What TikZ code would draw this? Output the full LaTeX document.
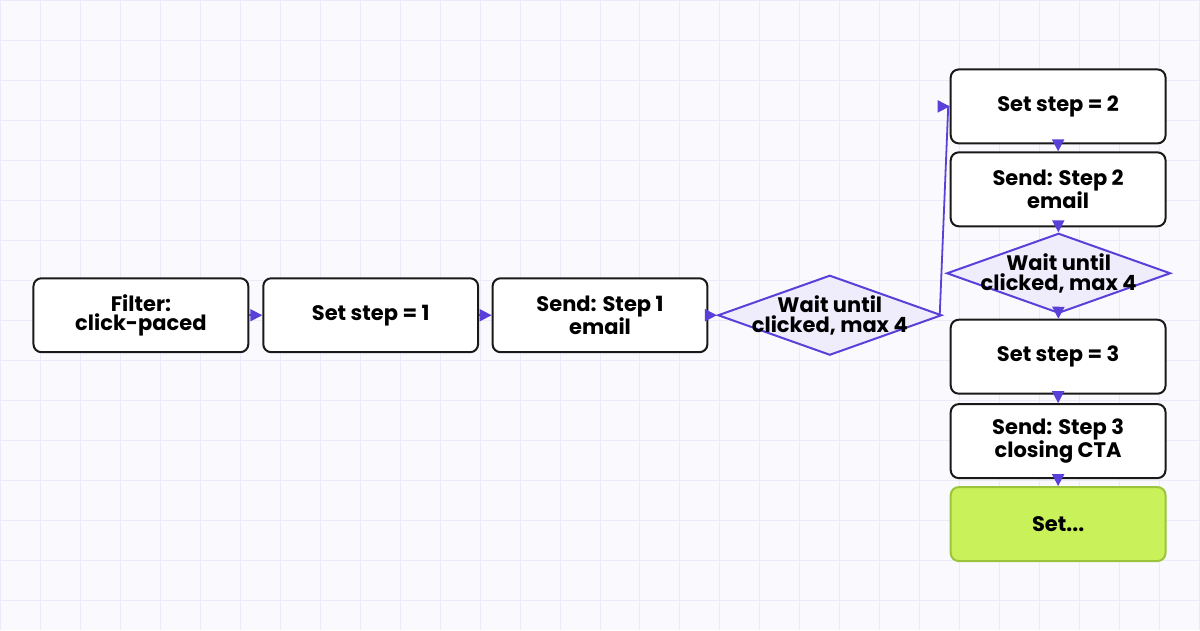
\documentclass[tikz,border=0pt]{standalone}
\usepackage{fontspec}
\setmainfont{Poppins}
\usetikzlibrary{shapes.geometric,arrows.meta}
\definecolor{gridline}{HTML}{ECEAF8}
\definecolor{paper}{HTML}{FAFAFE}
\definecolor{flow}{HTML}{5B3FD9}
\definecolor{waitfill}{HTML}{EFECFC}
\definecolor{donefill}{HTML}{C9F15A}
\definecolor{doneline}{HTML}{9CC43A}
\tikzset{
  label font/.style={font=\fontsize{21}{19.5}\selectfont\bfseries, align=center},
  step box/.style={draw=black!90, line width=2pt, rounded corners=8pt, fill=white,
    minimum width=215pt, minimum height=74pt, label font},
  wait/.style={diamond, aspect=2.8, draw=flow, line width=2pt, fill=waitfill, inner sep=0pt,
    minimum width=224pt, minimum height=80pt},
  done/.style={step box, fill=donefill, draw=doneline},
  arr/.style={draw=flow, line width=1.8pt, -{Triangle[length=12pt,width=12pt]}}
}
\begin{document}
\begin{tikzpicture}[x=1pt,y=-1pt]
		% Background and grid
		\fill[paper] (0,0) rectangle (1200,630);
		\foreach \i in {0,40,...,1200} \draw[gridline, line width=1pt] (\i,0) -- (\i,630);
		\foreach \j in {0,40,...,600} \draw[gridline, line width=1pt] (0,\j) -- (1200,\j);
		\useasboundingbox (0,0) rectangle (1200,630);
		% Main row
		\node[step box] (filter) at (140.5,315) {Filter:\\click-paced};
		\node[step box] (set1) at (370.5,315) {Set step = 1};
		\node[step box] (send1) at (600,315) {Send: Step 1\\email};
		\node[wait, label={[label font]center:Wait until\\clicked, max 4}] (wait1) at (830,315) {};
		% Right column
		\node[step box] (set2) at (1058.5,106) {Set step = 2};
		\node[step box] (send2) at (1058.5,189) {Send: Step 2\\email};
		\node[wait, label={[label font]center:Wait until\\clicked, max 4}] (wait2) at (1059,273) {};
		\node[step box] (set3) at (1058.5,356.5) {Set step = 3};
		\node[step box] (send3) at (1058.5,441) {Send: Step 3\\closing CTA};
		\node[done] (final) at (1058.5,524) {Set...};
		\coordinate (bend) at ([xshift=-1.5pt]set2.west);
		% Connectors
		\draw[arr] (filter) -- (set1);
		\draw[arr] (set1) -- (send1);
		\draw[arr] (send1) -- (wait1);
		\draw[arr] ([xshift=-3pt]wait1.east) -- (bend) -- (set2.west);
		\draw[arr] (set2) -- (send2);
		\draw[arr] (send2) -- (wait2);
		\draw[arr] (wait2) -- (set3);
		\draw[arr] (set3) -- (send3);
		\draw[arr] (send3) -- (final);
	\end{tikzpicture}
\end{document}
